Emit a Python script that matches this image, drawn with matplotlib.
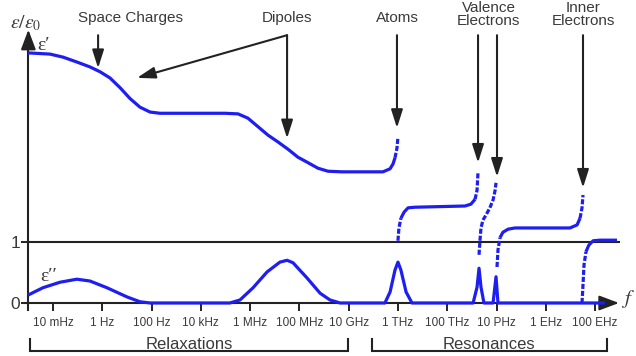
import matplotlib
matplotlib.use("Agg")
import matplotlib.pyplot as plt

plt.rcParams["font.family"] = ["Liberation Sans", "DejaVu Sans"]
plt.rcParams["mathtext.fontset"] = "stix"

# frequency axis in decades (log10 of f in Hz)
tick_decades = [-2, 0, 2, 4, 6, 8, 10, 12, 14, 16, 18, 20]
tick_labels = ["10 mHz", "1 Hz", "100 Hz", "10 kHz", "1 MHz", "100 MHz",
               "10 GHz", "1 THz", "100 THz", "10 PHz", "1 EHz", "100 EHz"]

# real part eps' : relaxation region up to the atomic resonance
relax_f = [-3.01, -2.12, -1.59, -1.03, -0.50, -0.09, 0.31, 0.72, 1.13, 1.53,
           1.94, 2.34, 4.98, 5.51, 5.91, 6.32, 6.73, 7.13, 7.54, 7.94, 8.35,
           8.75, 9.16, 9.73, 11.39, 11.68, 11.80, 11.88, 11.96, 12.00]
relax_v = [4.10, 4.08, 4.03, 3.95, 3.87, 3.79, 3.69, 3.53, 3.35, 3.21,
           3.13, 3.11, 3.11, 3.10, 3.03, 2.89, 2.75, 2.64, 2.52, 2.39, 2.30,
           2.21, 2.16, 2.15, 2.15, 2.20, 2.28, 2.38, 2.54, 2.72]
# infrared band: atoms -> first valence resonance
ir_f = [12.00, 12.04, 12.12, 12.25, 12.41, 12.69, 14.72, 14.96, 15.13, 15.21, 15.25]
ir_v = [1.02, 1.23, 1.39, 1.49, 1.56, 1.57, 1.59, 1.62, 1.70, 1.85, 2.15]
# between the two valence resonances
vis_f = [15.29, 15.33, 15.37, 15.45, 15.57, 15.73, 15.86, 15.94, 15.98]
vis_v = [0.79, 1.03, 1.23, 1.36, 1.44, 1.56, 1.69, 1.84, 1.97]
# ultraviolet band up to the inner-electron resonance
uv_f = [16.02, 16.06, 16.14, 16.26, 16.47, 16.75, 18.98, 19.27, 19.39, 19.47, 19.51]
uv_v = [0.59, 0.87, 1.07, 1.16, 1.21, 1.23, 1.23, 1.28, 1.39, 1.56, 1.77]
# beyond the inner-electron resonance
xray_f = [19.47, 19.51, 19.55, 19.63, 19.75, 19.92, 20.20, 20.89]
xray_v = [0.00, 0.30, 0.62, 0.84, 0.95, 1.02, 1.03, 1.03]

# imaginary part eps''
loss_f = [-3.01, -2.41, -1.72, -1.03, -0.50, 0.19, 1.00, 1.53, 1.94, 5.18,
          5.59, 6.12, 6.69, 7.21, 7.50, 7.74, 8.31, 8.84, 9.24, 9.65,
          11.47, 11.68, 11.88, 12.00, 12.12, 12.33, 12.57,
          15.05, 15.21, 15.29, 15.37, 15.49,
          15.86, 15.98, 16.06, 20.40]
loss_v = [0.13, 0.25, 0.34, 0.39, 0.36, 0.25, 0.10, 0.02, 0.00, 0.00,
          0.05, 0.25, 0.51, 0.67, 0.70, 0.66, 0.41, 0.16, 0.05, 0.00,
          0.00, 0.18, 0.54, 0.67, 0.54, 0.18, 0.00,
          0.00, 0.26, 0.57, 0.26, 0.00,
          0.00, 0.43, 0.00, 0.00]

# mechanism labels: (text, label centre x, arrow root x, arrow tips)
mechanisms = [
    ("Space Charges", 1.15, -0.17, [(-0.17, 3.85)]),
    ("Dipoles", 7.50, 7.50, [(7.50, 2.70), (1.41, 3.69)]),
    ("Atoms", 11.96, 11.96, [(11.96, 2.87)]),
    ("Valence\nElectrons", 15.68, None, [(15.25, 2.30), (16.02, 2.07)]),
    ("Inner\nElectrons", 19.51, 19.51, [(19.51, 1.89)]),
]

BLUE = "#1e1ef2"
INK = "#222222"
TXT = "#3a3a3a"
STEEP = (0, (1.6, 0.6))
SERIF = ["Liberation Serif", "DejaVu Serif"]

fig = plt.figure(figsize=(6.36, 3.56), dpi=100)
ax = fig.add_axes([0, 0, 1, 1])
ax.set_xlim(-4.151, 21.661)
ax.set_ylim(-0.869, 4.967)

for s in ("top", "right"):
    ax.spines[s].set_visible(False)
ax.spines["left"].set_position(("data", -3.0))
ax.spines["bottom"].set_position(("data", 0.0))
ax.spines["left"].set_bounds(-0.12, 4.25)
ax.spines["bottom"].set_bounds(-3.12, 20.5)
for s in ("left", "bottom"):
    ax.spines[s].set_linewidth(1.5)
    ax.spines[s].set_color(INK)

ax.set_xticks(tick_decades)
ax.set_xticklabels(tick_labels)
ax.tick_params(axis="x", direction="out", length=6, width=1.4, color=INK,
               labelsize=8.5, labelcolor=TXT, pad=4)
ax.set_yticks([0, 1])
ax.set_yticklabels(["0", "1"])
ax.tick_params(axis="y", direction="out", length=5, width=1.4, color=INK,
               labelsize=12.5, labelcolor=TXT, pad=1)

axis_arrow = dict(arrowstyle="-|>,head_length=1.2,head_width=0.45",
                  mutation_scale=10, color=INK, lw=1.5, shrinkA=0, shrinkB=0)
ax.annotate("", xy=(-3.0, 4.48), xytext=(-3.0, 4.2), arrowprops=axis_arrow)
ax.annotate("", xy=(20.97, 0.0), xytext=(20.45, 0.0), arrowprops=axis_arrow)

# the eps = 1 reference line
ax.plot([-3.0, 21.0], [1, 1], color=INK, lw=1.5, solid_capstyle="butt")


def draw(fx, vy, steep_head=0, steep_tail=0, ls_all=None):
    """Draw one curve; its near-vertical ends are drawn dashed."""
    kw = dict(color=BLUE, lw=2.3, solid_capstyle="butt", dash_capstyle="butt",
              zorder=3)
    n = len(fx)
    if ls_all is not None:
        ax.plot(fx, vy, ls=ls_all, **kw)
        return
    a = steep_head
    b = n - 1 - steep_tail
    ax.plot(fx[a:b + 1], vy[a:b + 1], **kw)
    if steep_head:
        ax.plot(fx[:a + 1], vy[:a + 1], ls=STEEP, **kw)
    if steep_tail:
        ax.plot(fx[b:], vy[b:], ls=STEEP, **kw)


draw(relax_f, relax_v, steep_tail=2)
draw(ir_f, ir_v, steep_head=2, steep_tail=2)
draw(vis_f, vis_v, ls_all=STEEP)
draw(uv_f, uv_v, steep_head=2, steep_tail=2)
draw(xray_f, xray_v, steep_head=3)
ax.plot(loss_f, loss_v, color=BLUE, lw=2.3, solid_capstyle="butt", zorder=3)

# labels of axes and curves
ax.text(-3.10, 4.58, r"$\varepsilon/\varepsilon_0$", fontsize=14,
        ha="center", va="center", color=TXT)
ax.text(-2.38, 4.22, "ε\u2032", fontsize=14, family=SERIF,
        ha="center", va="center", color=TXT)
ax.text(-2.18, 0.44, "ε\u2032\u2032", fontsize=14, family=SERIF,
        ha="center", va="center", color=TXT)
ax.text(21.34, 0.06, r"$f$", fontsize=15, ha="center", va="center", color=TXT)

# mechanism annotations
ann_arrow = dict(arrowstyle="-|>,head_length=1.1,head_width=0.35",
                 mutation_scale=10, color=INK, lw=1.5, shrinkA=0, shrinkB=0)
for label, xc, root, tips in mechanisms:
    ax.text(xc, 4.68 if "\n" not in label else 4.73, label, fontsize=11,
            ha="center", va="center", color=TXT, linespacing=0.9)
    for tx, ty in tips:
        sx = tx if root is None else root
        ax.annotate("", xy=(tx, ty), xytext=(sx, 4.39), arrowprops=ann_arrow)

# region brackets
brackets = [("Relaxations", -2.93, 9.97, 3.52), ("Resonances", 10.93, 20.5, 15.69)]
for name, x0, x1, xc in brackets:
    ax.plot([x0, x0, x1, x1], [-0.59, -0.787, -0.787, -0.59], color=INK,
            lw=1.5, solid_joinstyle="miter")
    ax.text(xc, -0.755, name, fontsize=12, ha="center", va="baseline", color=TXT)

fig.savefig("out.png", dpi=100)
